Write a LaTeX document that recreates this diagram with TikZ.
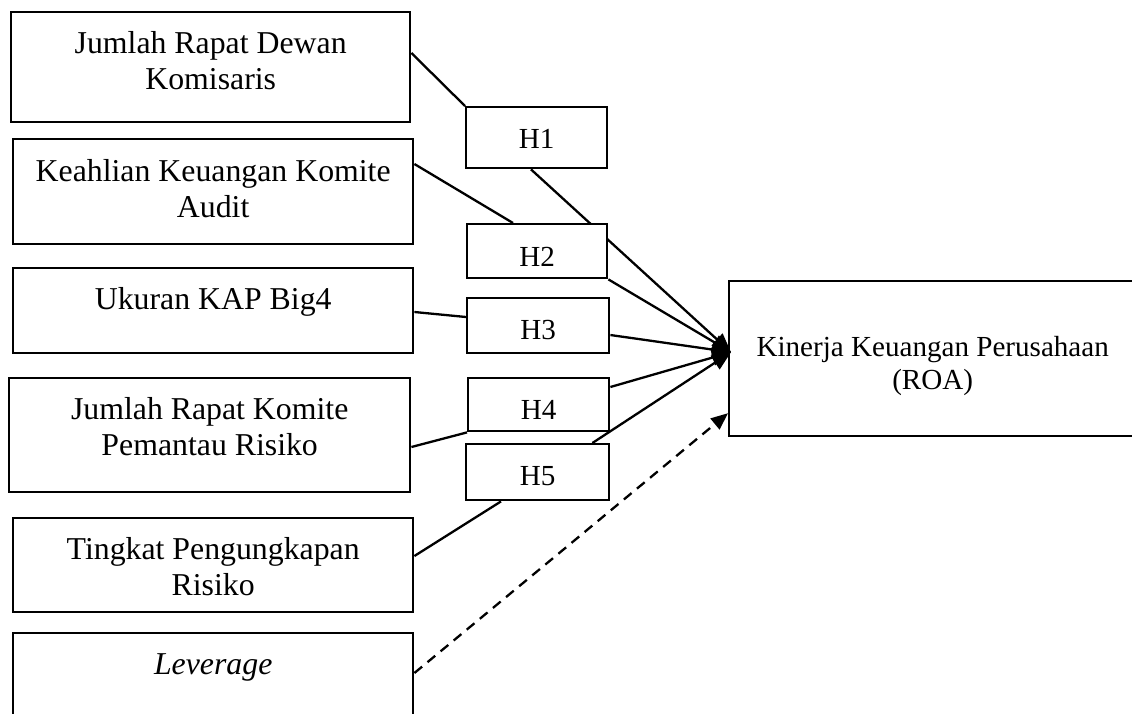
\documentclass[tikz,border=0pt]{standalone}
\usepackage{fontspec}
\setmainfont{Liberation Serif}
\usetikzlibrary{arrows.meta,backgrounds}
\newcommand{\boxtxt}[4]{\parbox[t][#2pt][t]{#1pt}{\centering\rule{0pt}{#3pt}#4\par}}
\tikzset{
  vbox/.style={draw, line width=2.4pt, fill=white, inner sep=0pt, anchor=north west,
    font=\fontsize{31.8}{36.6}\selectfont},
  hbox/.style={draw, line width=2.4pt, fill=white, inner sep=0pt, anchor=north west,
    font=\fontsize{29.1}{33.5}\selectfont},
  conn/.style={line width=2.3pt},
  arr/.style={conn, -{Triangle[length=19pt,width=16pt]}},
  darr/.style={conn, dash pattern=on 10pt off 7pt, -{Triangle[length=17pt,width=14pt]}},
}
\begin{document}
\begin{tikzpicture}[x=1pt,y=-1pt]
\useasboundingbox (0,0) rectangle (1132,713);
\clip (0,0) rectangle (1132,713);
% left boxes
\node[vbox] (b1) at (10,11)  {\boxtxt{399}{110}{41}{Jumlah Rapat Dewan\\Komisaris}};
\node[vbox] (b2) at (12,138) {\boxtxt{400}{105}{42}{Keahlian Keuangan Komite\\Audit}};
\node[vbox] (b3) at (12,267) {\boxtxt{400}{85}{41}{Ukuran KAP Big4}};
\node[vbox] (b4) at (8,377)  {\boxtxt{401}{114}{41}{Jumlah Rapat Komite\\Pemantau Risiko}};
\node[vbox] (b5) at (12,517) {\boxtxt{400}{94}{41}{Tingkat Pengungkapan\\Risiko}};
\node[vbox] (b6) at (12,632) {\boxtxt{400}{115}{41}{\textit{Leverage}}};
% hypothesis boxes
\node[hbox] (h1) at (465,106) {\boxtxt{141}{61}{41}{H1}};
\node[hbox] (h2) at (466,223) {\boxtxt{140}{54}{42}{H2}};
\node[hbox] (h3) at (466,297) {\boxtxt{142}{55}{41}{H3}};
\node[hbox] (h4) at (467,377) {\boxtxt{141}{53}{41}{H4}};
\node[hbox] (h5) at (465,443) {\boxtxt{143}{56}{41}{H5}};
% dependent variable
\node[hbox, fill=none] (roa) at (728,280) {\boxtxt{407}{155}{75}{Kinerja Keuangan Perusahaan\\(ROA)}};
\coordinate (tip) at ([xshift=3pt,yshift=6.5pt]roa.west);
\coordinate (dtip) at ([yshift=-54.5pt]roa.west);
\begin{pgfonlayer}{background}
\draw[conn] ([yshift=-42pt]b1.north east) -- (h1.north west);
\draw[conn] ([yshift=-26pt]b2.north east) -- ([xshift=47pt]h2.north west);
\draw[conn] ([yshift=-45pt]b3.north east) -- ([yshift=-20pt]h3.north west);
\draw[conn] ([yshift=-70pt]b4.north east) -- (h4.south west);
\draw[conn] ([yshift=-39pt]b5.north east) -- ([xshift=36pt]h5.south west);
\draw[arr] ([xshift=66pt]h1.south west) -- (tip);
\draw[arr] (h2.south east) -- (tip);
\draw[arr] ([yshift=-38pt]h3.north east) -- (tip);
\draw[arr] ([yshift=-10pt]h4.north east) -- (tip);
\draw[arr] ([xshift=-18pt]h5.north east) -- (tip);
\draw[darr] ([yshift=-41pt]b6.north east) -- (dtip);
\end{pgfonlayer}
\end{tikzpicture}
\end{document}
